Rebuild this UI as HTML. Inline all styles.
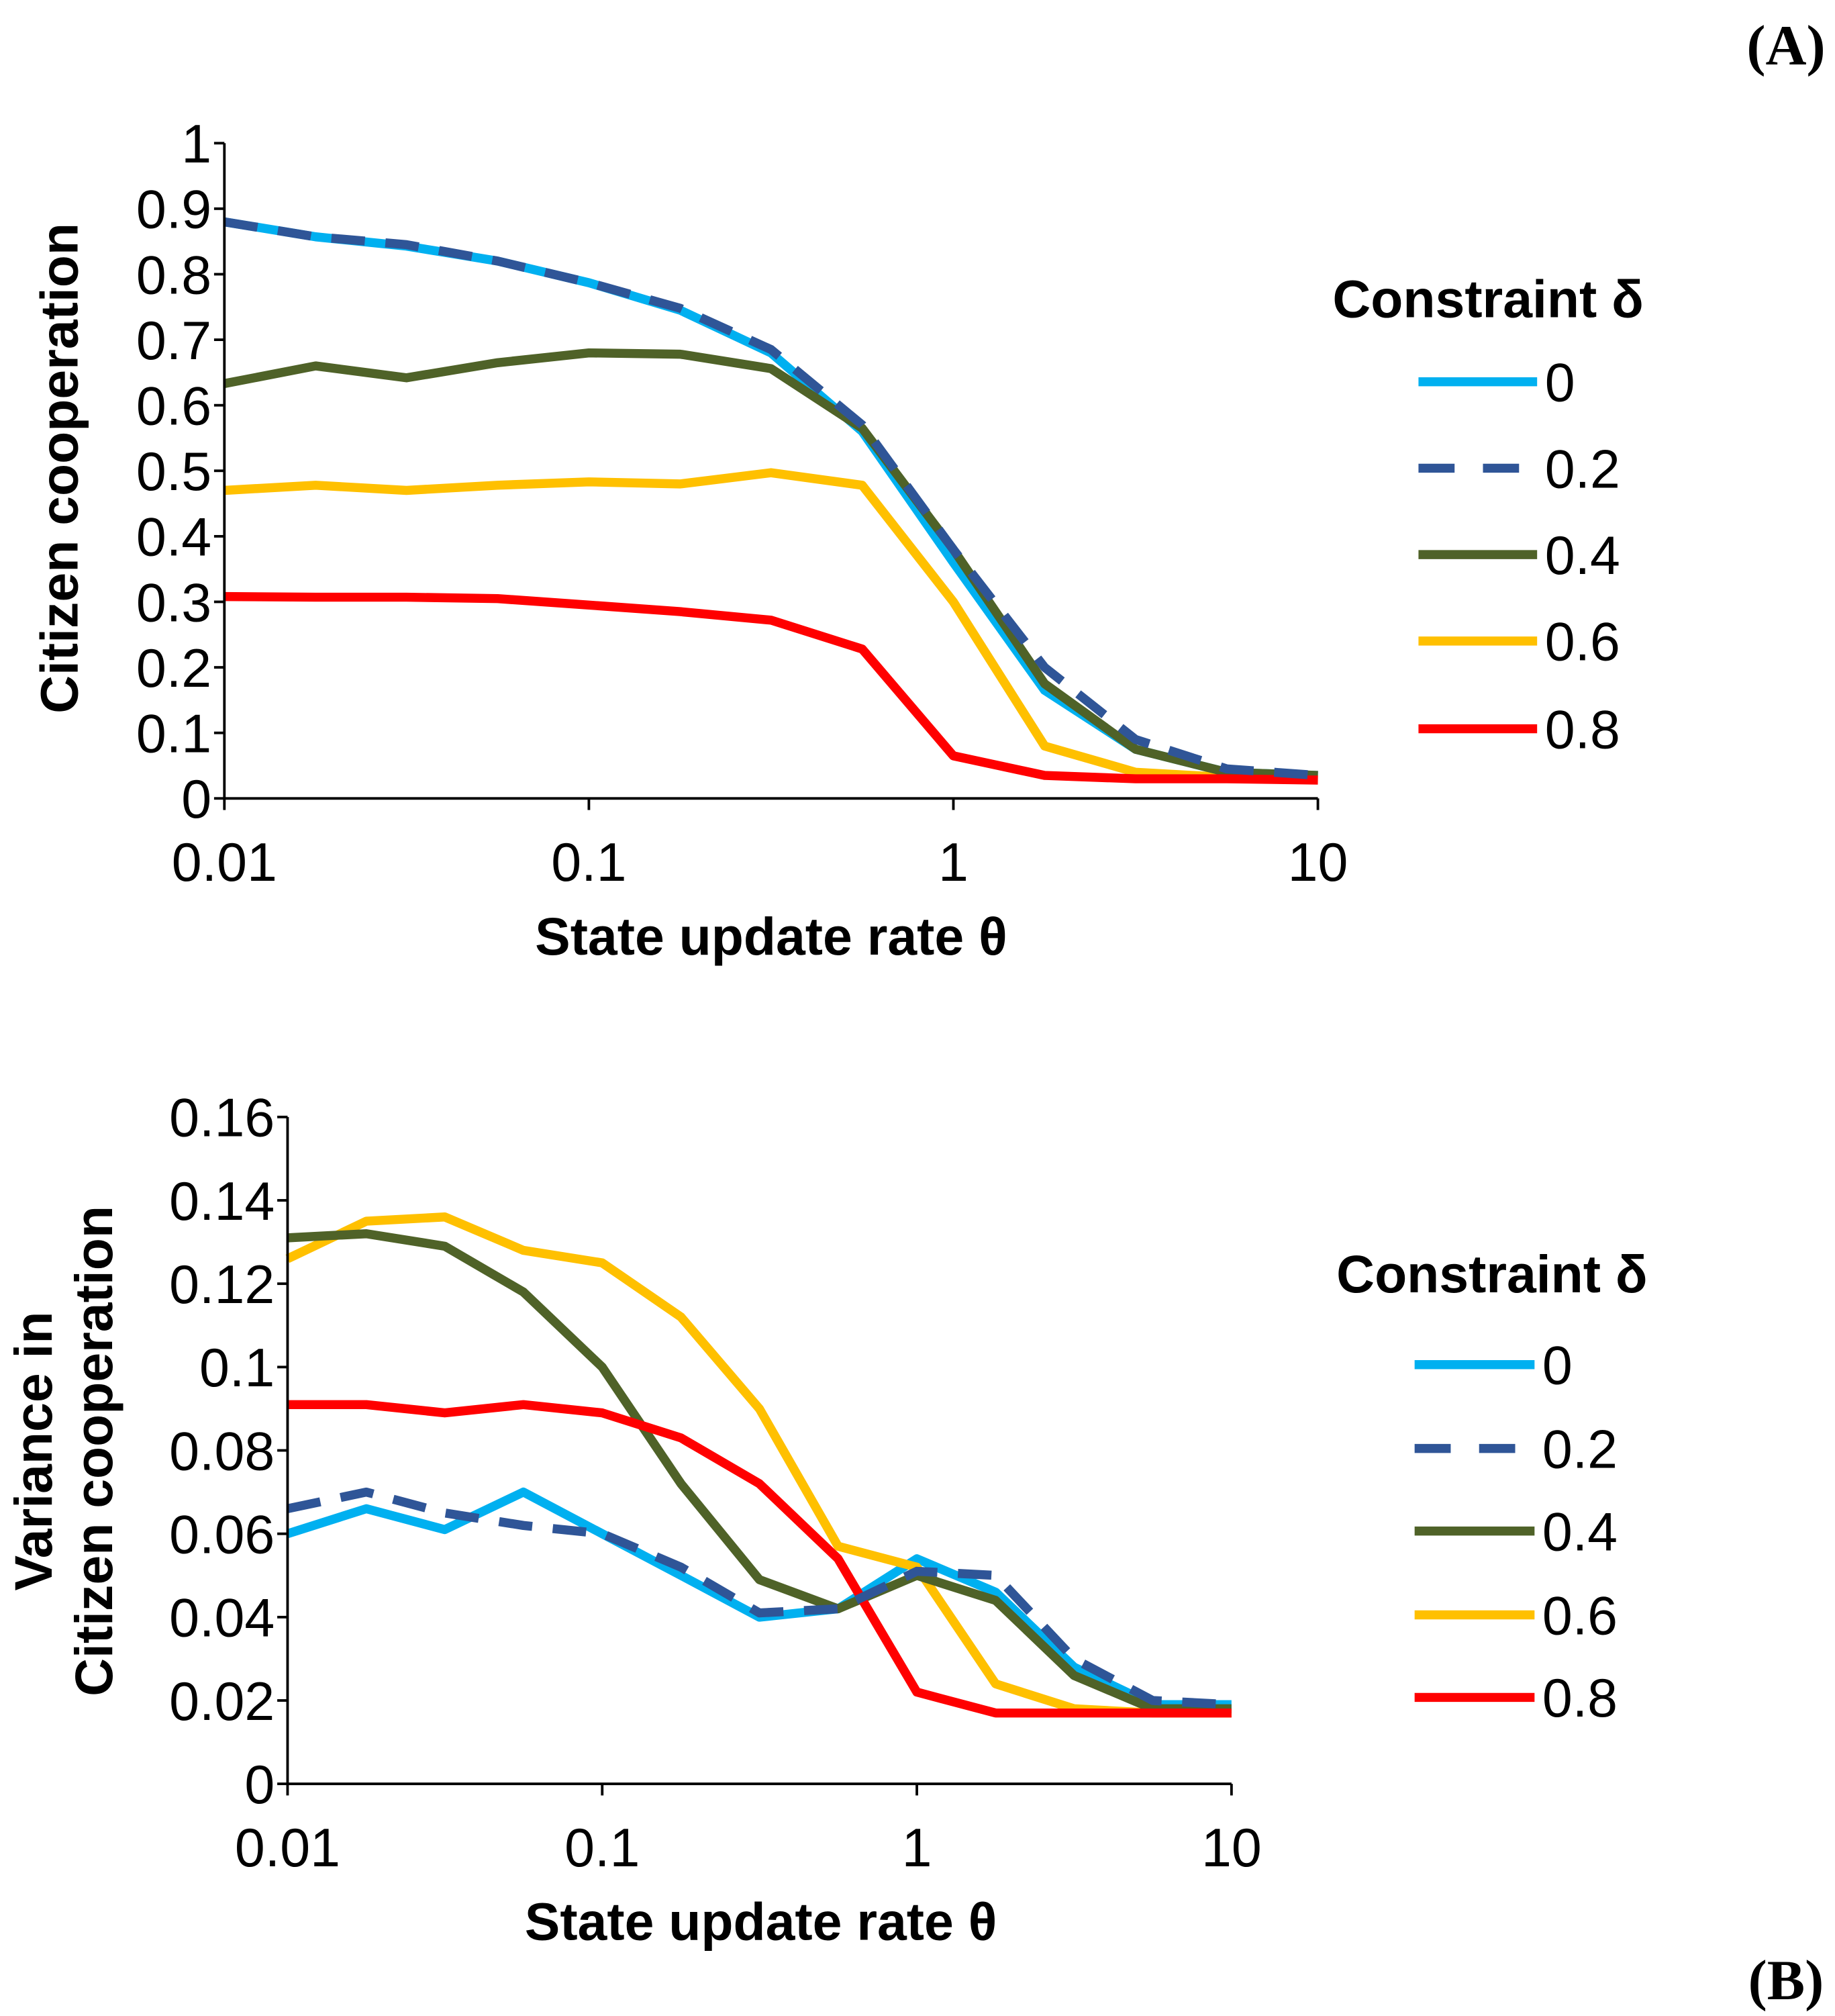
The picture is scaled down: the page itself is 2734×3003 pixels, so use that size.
<!DOCTYPE html>
<html><head><meta charset="utf-8"><style>
html,body{margin:0;padding:0;background:#fff}
svg{display:block}
text{font-family:"Liberation Sans",sans-serif}
</style></head><body>
<svg id="chart" width="2734" height="3003" viewBox="0 0 1423 1563" preserveAspectRatio="none" xmlns="http://www.w3.org/2000/svg">
<text x="1385" y="50" font-weight="bold" font-size="44" text-anchor="middle" style="font-family:'Liberation Serif',serif">(A)</text>
<text x="1385" y="1550" font-weight="bold" font-size="44" text-anchor="middle" style="font-family:'Liberation Serif',serif">(B)</text>
</svg>
<script>
const xVals=[0.01,0.0178,0.0316,0.0562,0.1,0.178,0.316,0.562,1,1.78,3.16,5.62,10];
const deltas=['0','0.2','0.4','0.6','0.8'];
const colors=['#00b0f0','#2f5597','#4f6228','#ffc000','#ff0000'];
const topD0=[0.88,0.857,0.843,0.82,0.787,0.745,0.68,0.56,0.36,0.165,0.075,0.04,0.035];
const topD2=[0.88,0.857,0.845,0.82,0.787,0.748,0.685,0.57,0.38,0.2,0.09,0.045,0.035];
const topD4=[0.633,0.66,0.642,0.665,0.68,0.678,0.656,0.565,0.38,0.175,0.075,0.04,0.035];
const topD6=[0.47,0.478,0.47,0.478,0.483,0.48,0.497,0.478,0.3,0.08,0.04,0.032,0.03];
const topD8=[0.308,0.307,0.307,0.305,0.295,0.285,0.272,0.228,0.065,0.035,0.03,0.03,0.028];
const botD0=[0.060,0.066,0.061,0.070,0.060,0.050,0.040,0.042,0.054,0.046,0.028,0.019,0.019];
const botD2=[0.066,0.070,0.065,0.062,0.060,0.052,0.041,0.042,0.051,0.050,0.030,0.020,0.019];
const botD4=[0.131,0.132,0.129,0.118,0.100,0.072,0.049,0.042,0.050,0.044,0.026,0.018,0.018];
const botD6=[0.126,0.135,0.136,0.128,0.125,0.112,0.090,0.057,0.052,0.024,0.018,0.017,0.017];
const botD8=[0.091,0.091,0.089,0.091,0.089,0.083,0.072,0.054,0.022,0.017,0.017,0.017,0.017];
const topYTicks=['0','0.1','0.2','0.3','0.4','0.5','0.6','0.7','0.8','0.9','1'];
const botYTicks=['0','0.02','0.04','0.06','0.08','0.1','0.12','0.14','0.16'];
const xTicks=['0.01','0.1','1','10'];
const svg=document.getElementById('chart');
const NS='http://www.w3.org/2000/svg';
function mk(tag,attrs,parent){const e=document.createElementNS(NS,tag);for(const k in attrs)e.setAttribute(k,attrs[k]);(parent||svg).appendChild(e);return e;}
function panel(cfg){
  const g=mk('g',{});
  
  
  const xs=v=>cfg.x0+(Math.log10(v)+2)/3*(cfg.x1-cfg.x0);
  const ys=v=>cfg.y0-(v/cfg.ymax)*(cfg.y0-cfg.y1);
  const seriesList=cfg.series;
  [0,3,2,4,1].forEach(i=>{
    const s=seriesList[i];
    const pts=s.map((v,j)=>xs(xVals[j]).toFixed(1)+','+ys(v).toFixed(1)).join(' ');
    const p=mk('polyline',{points:pts,fill:'none',stroke:colors[i],'stroke-width':7,'stroke-linejoin':'round'},g);
    if(i===1)p.setAttribute('stroke-dasharray','26 16');
    
    
  });
  const ax=mk('path',{d:`M${cfg.x0},${cfg.y1}V${cfg.y0}H${cfg.x1}`,stroke:'#000','stroke-width':2,fill:'none'},g);
  
  
  cfg.yTicks.forEach(t=>{
    const y=ys(parseFloat(t));
    mk('line',{x1:cfg.x0-8,x2:cfg.x0,y1:y,y2:y,stroke:'#000','stroke-width':2},g);
    const tx=mk('text',{x:cfg.x0-10,y:y+15,'font-size':42,'text-anchor':'end'},g);
    tx.textContent=t;
    
    
  });
  xTicks.forEach(t=>{
    const x=xs(parseFloat(t));
    mk('line',{x1:x,x2:x,y1:cfg.y0,y2:cfg.y0+9,stroke:'#000','stroke-width':2},g);
    const tx=mk('text',{x:x,y:cfg.y0+64,'font-size':42,'text-anchor':'middle'},g);
    tx.textContent=t;
    
    
  });
  const xt=mk('text',{x:cfg.xtX,y:cfg.xtY,'font-size':41,'font-weight':'bold','text-anchor':'middle'},g);
  xt.textContent='State update rate θ';
  
  
  cfg.yTitles.forEach(yt=>{
    const t=mk('text',{transform:`translate(${yt[0]},${cfg.ytY}) rotate(-90)`,'font-size':41,'font-weight':'bold','text-anchor':'middle'},g);
    t.textContent=yt[1];
    
    
  });
  const lt=mk('text',{x:cfg.legX,y:cfg.legTitleY+14,'font-size':41,'font-weight':'bold','text-anchor':'middle'},g);
  lt.textContent='Constraint δ';
  
  
  deltas.forEach((d,i)=>{
    const y=cfg.legY[i];
    const l=mk('line',{x1:cfg.legL0,x2:cfg.legL1,y1:y,y2:y,stroke:colors[i],'stroke-width':7},g);
    if(i===1)l.setAttribute('stroke-dasharray','28 22');
    
    
    const t=mk('text',{x:cfg.legL1+6,y:y+15,'font-size':42},g);
    t.textContent=d;
    
    
  });
}
panel({name:'chart-a',x0:174,x1:1022,y0:619,y1:111,ymax:1,series:[topD0,topD2,topD4,topD6,topD8],yTicks:topYTicks,
  xtX:598,xtY:740,yTitles:[[60,'Citizen cooperation']],ytY:363,legX:1154,legTitleY:232,legY:[296,363,430,497,565],legL0:1100,legL1:1192});
panel({name:'chart-b',x0:223,x1:955,y0:1383,y1:866,ymax:0.16,series:[botD0,botD2,botD4,botD6,botD8],yTicks:botYTicks,
  xtX:590,xtY:1504,yTitles:[[40,'Variance in'],[87,'Citizen cooperation']],ytY:1125,legX:1157,legTitleY:988,legY:[1058,1123,1187,1252,1316],legL0:1097,legL1:1190});
</script>
</body></html>
